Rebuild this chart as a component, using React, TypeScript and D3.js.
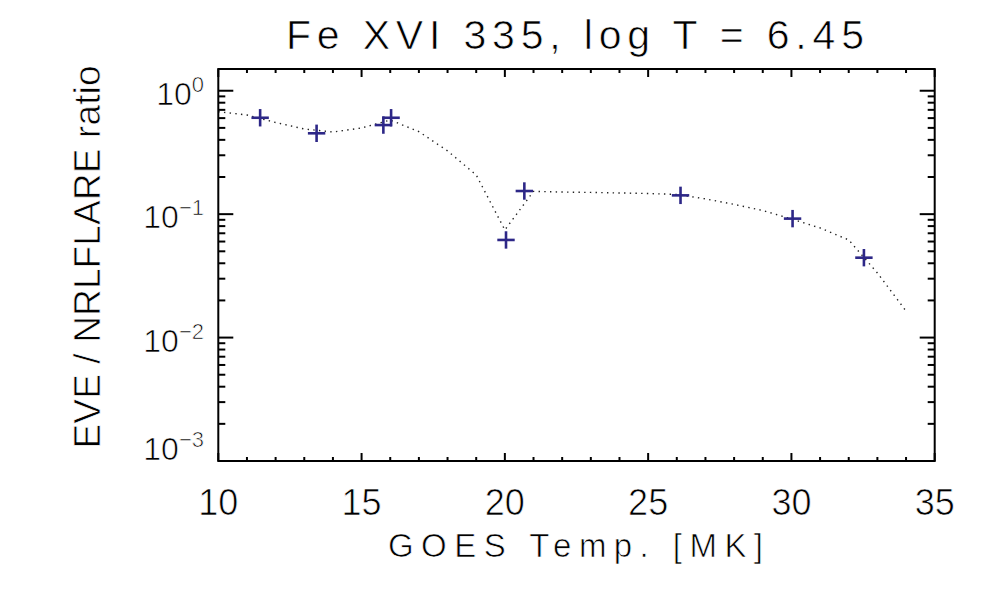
import React from 'react';
import * as d3 from 'd3';

// GOES temperature [MK] and EVE / NRLFLARE ratio for each flare
const flareTemps = [11.46, 13.43, 15.76, 16.03, 20.04, 20.68, 26.13, 30.04, 32.53];
const flareRatios = [0.604, 0.452, 0.527, 0.604, 0.0618, 0.154, 0.142, 0.092, 0.0444];

// dotted model curve, sampled every 1 MK
const curveTemps = [10, 11, 12, 13, 14, 15, 16, 17, 18, 19, 20, 21, 22, 23, 24, 25, 26, 27, 28, 29, 30, 31, 32, 33, 34];
const curveRatios = [
  0.676, 0.636, 0.553, 0.49, 0.463, 0.499, 0.579, 0.466, 0.3255, 0.2077,
  0.0745, 0.153, 0.151, 0.15, 0.1485, 0.147, 0.1445, 0.133, 0.12, 0.107,
  0.0915, 0.0773, 0.0618, 0.0334, 0.0164,
];

const xTicks = [10, 15, 20, 25, 30, 35];
const yDecades = [-3, -2, -1, 0];

const W = 1000;
const H = 600;
const margin = { left: 218.3, right: 934.7, top: 69, bottom: 461 };
const font = '"Liberation Sans", Arial, sans-serif';
const markColor = '#2d2787';

// thin white outline so the glyphs look as light as the original vector font
const thin = { stroke: '#fff', strokeWidth: 0.7 };

export default function App() {
  const x = d3.scaleLinear().domain([10, 35]).range([margin.left, margin.right]);
  const y = d3.scaleLog().domain([1e-3, 1.5]).range([margin.bottom, margin.top]);

  const line = d3
    .line<number>()
    .x((_d, i) => x(curveTemps[i]))
    .y((d) => y(d));

  const xMinor = d3.range(10, 36, 1).filter((t) => t % 5 !== 0);
  const yMinor: number[] = [];
  yDecades.forEach((e) => {
    for (let k = 2; k <= 9; k++) {
      const v = k * Math.pow(10, e);
      if (v <= 1.5) yMinor.push(v);
    }
  });

  const majX = 8;
  const minX = 4;
  const majY = 15;
  const minY = 7;

  return (
    <svg
      width={W}
      height={H}
      style={{ position: 'absolute', left: 0, top: 0, background: '#fff' }}
      fontFamily={font}
    >
      {/* title */}
      <text x={575} y={48.5} fontSize={41} textAnchor="middle" textLength={578} lengthAdjust="spacing" {...thin}>
        Fe XVI 335, log T = 6.45
      </text>

      {/* curve */}
      <path
        d={line(curveRatios) || ''}
        fill="none"
        stroke="#222"
        strokeWidth={1.4}
        strokeDasharray="1.4 4.3"
      />

      {/* markers */}
      {flareTemps.map((t, i) => {
        const cx = x(t);
        const cy = y(flareRatios[i]);
        const s = 8.7;
        return (
          <g key={i} stroke={markColor} strokeWidth={2.6}>
            <line x1={cx - s} x2={cx + s} y1={cy} y2={cy} />
            <line x1={cx} x2={cx} y1={cy - s} y2={cy + s} />
          </g>
        );
      })}

      {/* ticks on all four sides */}
      <g stroke="#000" strokeWidth={2}>
        {xTicks.map((t) => (
          <g key={'xt' + t}>
            <line x1={x(t)} x2={x(t)} y1={margin.bottom} y2={margin.bottom - majX} />
            <line x1={x(t)} x2={x(t)} y1={margin.top} y2={margin.top + majX} />
          </g>
        ))}
        {xMinor.map((t) => (
          <g key={'xm' + t}>
            <line x1={x(t)} x2={x(t)} y1={margin.bottom} y2={margin.bottom - minX} />
            <line x1={x(t)} x2={x(t)} y1={margin.top} y2={margin.top + minX} />
          </g>
        ))}
        {yDecades.map((e) => {
          const yy = y(Math.pow(10, e));
          return (
            <g key={'yt' + e}>
              <line x1={margin.left} x2={margin.left + majY} y1={yy} y2={yy} />
              <line x1={margin.right} x2={margin.right - majY} y1={yy} y2={yy} />
            </g>
          );
        })}
        {yMinor.map((v, i) => (
          <g key={'ym' + i}>
            <line x1={margin.left} x2={margin.left + minY} y1={y(v)} y2={y(v)} />
            <line x1={margin.right} x2={margin.right - minY} y1={y(v)} y2={y(v)} />
          </g>
        ))}
        <rect
          x={margin.left}
          y={margin.top}
          width={margin.right - margin.left}
          height={margin.bottom - margin.top}
          fill="none"
        />
      </g>

      {/* x tick labels */}
      {xTicks.map((t) => (
        <text key={'xl' + t} x={x(t)} y={515} fontSize={36} textAnchor="middle" {...thin}>
          {t}
        </text>
      ))}

      {/* y tick labels */}
      {yDecades.map((e) => {
        const base = Math.min(y(Math.pow(10, e)) + 14, margin.bottom - 1);
        return (
          <text key={'yl' + e} x={204} y={base} fontSize={32} textAnchor="end" {...thin}>
            10
            <tspan dy={-13} fontSize={22}>
              {e === 0 ? '0' : '\u2212' + Math.abs(e)}
            </tspan>
          </text>
        );
      })}

      {/* axis titles */}
      <text x={575.5} y={557} fontSize={33} textAnchor="middle" textLength={375} lengthAdjust="spacing" {...thin}>
        GOES Temp. [MK]
      </text>
      <text
        transform={`translate(100, 257) rotate(-90)`}
        fontSize={37}
        textAnchor="middle"
        textLength={383}
        lengthAdjust="spacing"
        {...thin}
      >
        EVE / NRLFLARE ratio
      </text>
    </svg>
  );
}
